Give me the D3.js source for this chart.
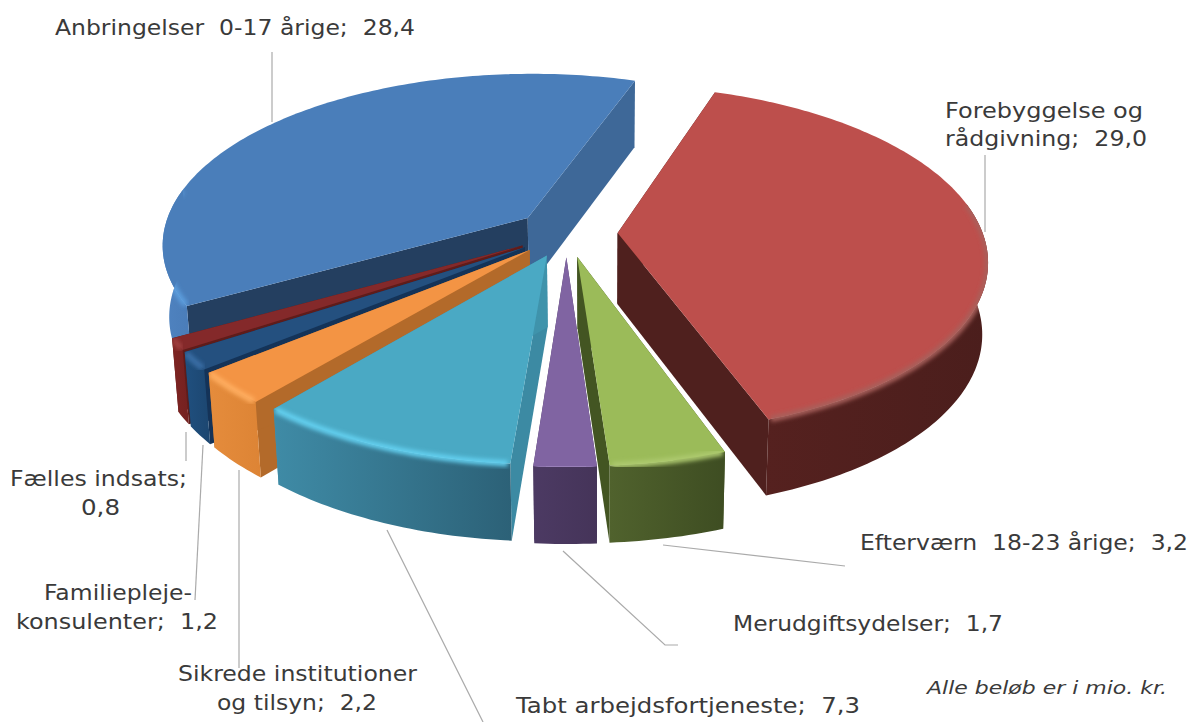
<!DOCTYPE html>
<html><head><meta charset="utf-8">
<script src="https://cdn.jsdelivr.net/npm/d3@7/dist/d3.min.js"></script>
<style>html,body{margin:0;background:#fff}svg{display:block}text{white-space:pre;font-family:"DejaVu Sans",sans-serif;fill:#3a3a3a}</style>
</head><body><svg id="c" width="1191" height="722"></svg>
<script>
// data (clockwise from the first slice)
const categories = ["Forebyggelse og\nrådgivning","Efterværn  18-23 årige","Merudgiftsydelser","Tabt arbejdsfortjeneste","Sikrede institutioner\nog tilsyn","Familiepleje-\nkonsulenter","Fælles indsats","Anbringelser  0-17 årige"];
const values = [29.0,3.2,1.7,7.3,2.2,1.2,0.8,28.4];
const note = "Alle beløb er i mio. kr.";
// styles
const topColors = ["#bd4f4c","#9bbb59","#8064a2","#4aa9c4","#f39444","#24507f","#84292a","#4a7eba"];
const arcColors = [["#55211f","#4b1e1c"],["#50622d","#3e4d22"],["#4c3a63","#453459"],["#3f8ba6","#2c6177"],["#e58c3c","#dd8435"],["#20507f","#1c4670"],["#7e2422","#742120"],["#4f83c0","#4a7cb8"]];
const startWall = ["#4f201e","#435522","#4a3860","#3c8aa3","#b36a2a","#143358","#5f1c1a","#243f60"];
const endWall = ["#4f201e","#435522","#4a3860","#3f93ab","#b36a2a","#143358","#5f1c1a","#3e6898"];
const bevel = ["#a8605c","#aeca70","#9a80bb","#63d0f0","#ffae60","#3a6ea6","#a04040","#5b9ddd"];
const drawOrder = [7,6,5,4,3,0,2,1];
// layout
const center=[566.5,233], rx=365, ry=170, persp=.15, depth=71, explode=.14, vanishX=564, wallVanishX=600, firstAngle=19;
const leaders=[[[272,52],[272,122]],[[985,155],[985,232]],[[663,545],[845,566]],[[563,551],[665,645],[678,645]],[[387,530],[483,722]],[[239,470],[239,668]],[[203,445],[195,600]],[[186,432],[186,461]]];
const labelSep=["  ","  ","  ","  ","  ","  ","\n","  "];
const labelAt=[[[945,118,198],[945,146,202]],[[860,550,328]],[[733,631,270]],[[516,713,344]],[[178,681,239],[217,710,160]],[[44,600,148],[16,629,202]],[[10,486,177],[81,515,39]],[[55,35,360]]];

const svg=d3.select("#c"), defs=svg.append("defs");
const blur=defs.append("filter").attr("id","bl").attr("x","-10%").attr("y","-10%").attr("width","120%").attr("height","120%");
blur.append("feGaussianBlur").attr("stdDeviation",2);
const pie=d3.pie().sort(null).startAngle(firstAngle*Math.PI/180).endAngle((firstAngle+360)*Math.PI/180);
const arcs=pie(values);
const line=d3.line();
function pt(i,a,r,low){
  const d=arcs[i], mid=(d.startAngle+d.endAngle)/2;
  const X=explode*Math.sin(mid)+r*Math.sin(a), Y=-explode*Math.cos(mid)-r*Math.cos(a), s=1/(1-persp*Y);
  let x=vanishX+(center[0]-vanishX+rx*X)*s, y=center[1]+ry*Y*s;
  if(low){x=wallVanishX+(x-wallVanishX)*.985; y+=depth*Math.pow(s,.45);}
  return [x,y];
}
function samples(a0,a1){const n=Math.max(2,Math.ceil((a1-a0)*180/Math.PI));return d3.range(n+1).map(k=>a0+(a1-a0)*k/n);}
const lo=80*Math.PI/180, hi=280*Math.PI/180;
function frontRange(d){ // the part of the rim that faces the viewer
  const a0=Math.max(d.startAngle,lo), a1=Math.min(d.endAngle,hi);
  return a1>a0?[a0,a1]:null;
}
arcColors.forEach((c,i)=>{
  const g=defs.append("linearGradient").attr("id","w"+i);
  g.append("stop").attr("offset",0).attr("stop-color",c[0]);
  g.append("stop").attr("offset",1).attr("stop-color",c[1]);
});
drawOrder.forEach(i=>{
  const d=arcs[i], g=svg.append("g");
  const radial=(a,col)=>g.append("path").attr("fill",col)
    .attr("d",line([pt(i,a,0,false),pt(i,a,1,false),pt(i,a,1,true),pt(i,a,0,true)])+"Z");
  radial(d.startAngle,startWall[i]);
  radial(d.endAngle,endWall[i]);
  const fr=frontRange(d);
  const ts=samples(d.startAngle,d.endAngle);
  const topD=line([pt(i,0,0,false)].concat(ts.map(a=>pt(i,a,1,false))))+"Z";
  if(fr){
    const ss=samples(fr[0],fr[1]);
    const wallD=line(ss.map(a=>pt(i,a,1,false)).concat(ss.slice().reverse().map(a=>pt(i,a,1,true))))+"Z";
    g.append("path").attr("fill",`url(#w${i})`).attr("d",wallD);
    defs.append("clipPath").attr("id","cp"+i).selectAll("path").data([wallD,topD]).join("path").attr("d",s=>s);
  }
  g.append("path").attr("fill",topColors[i]).attr("d",topD);
  if(fr){
    g.append("g").attr("clip-path",`url(#cp${i})`).append("path").attr("fill","none").attr("stroke",bevel[i]).attr("stroke-width",6).attr("filter","url(#bl)")
      .attr("d",line(samples(fr[0]+.006,fr[1]-.006).map(a=>pt(i,a,1,false))));
  }
});
svg.append("g").selectAll("path").data(leaders).join("path").attr("fill","none").attr("stroke","#aaaaaa").attr("stroke-width",1.2).attr("d",d=>line(d));
const fmt=v=>v.toFixed(1).replace(".",",");
categories.forEach((c,i)=>{
  const lines=(c+";"+labelSep[i]+fmt(values[i])).split("\n");
  lines.forEach((t,j)=>{
    const p=labelAt[i][j];
    svg.append("text").attr("x",p[0]).attr("y",p[1]).attr("font-size",22).attr("textLength",p[2]).attr("lengthAdjust","spacingAndGlyphs").text(t);
  });
});
svg.append("text").attr("x",927).attr("y",694).attr("font-size",17.5).attr("font-style","italic").attr("textLength",240).attr("lengthAdjust","spacingAndGlyphs").text(note);
</script></body></html>
